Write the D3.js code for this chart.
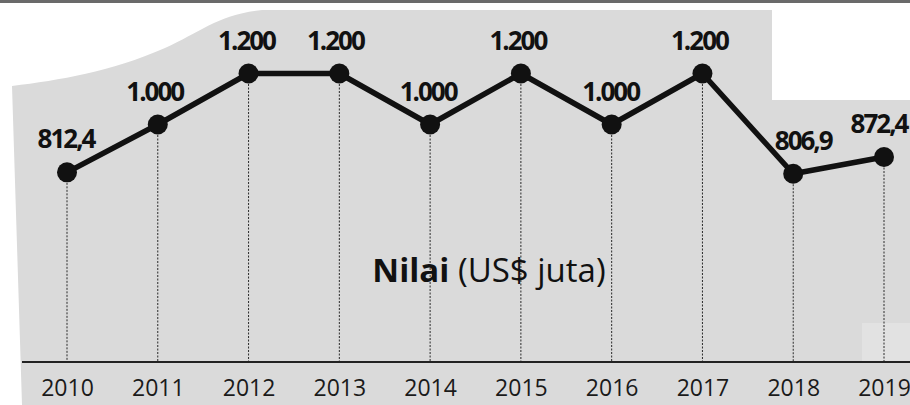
<!DOCTYPE html>
<html>
<head>
<meta charset="utf-8">
<script src="https://cdn.jsdelivr.net/npm/d3@7"></script>
<style>
  body { margin: 0; background: #fff; }
  svg { display: block; }
</style>
</head>
<body>
<div class="chart"></div>
<script>
// data
var years = ['2010', '2011', '2012', '2013', '2014', '2015', '2016', '2017', '2018', '2019'];
var values = [812.4, 1000, 1200, 1200, 1000, 1200, 1000, 1200, 806.9, 872.4];
var valueLabels = ['812,4', '1.000', '1.200', '1.200', '1.000', '1.200', '1.000', '1.200', '806,9', '872,4'];

var svgWidth = 910;
var svgHeight = 405;

var svg = d3.select('.chart')
  .append('svg')
  .attr('width', svgWidth)
  .attr('height', svgHeight);

// scanned-paper background
svg.append('path')
  .attr('d', 'M12,86 C60,80 110,72 165,48 C200,32 220,14 262,10 L772,10 L772,100 L910,100 L910,405 L22,405 Z')
  .attr('fill', '#dadada');
svg.append('rect')
  .attr('x', 862).attr('y', 323)
  .attr('width', 48).attr('height', 39)
  .attr('fill', '#e2e2e2');
svg.append('rect')
  .attr('x', 0).attr('y', 0)
  .attr('width', svgWidth).attr('height', 3)
  .attr('fill', '#6a6a6a');

// scales
var x = d3.scalePoint().domain(years).range([67, 884]);
var y = d3.scaleLinear().domain([700, 1300]).range([201, 48]);
var baseY = 362;

var chart = svg.append('g');

// dotted drop lines
chart.selectAll('.drop')
  .data(years)
  .enter()
  .append('line')
  .attr('class', 'drop')
  .attr('x1', function(d) { return x(d); })
  .attr('x2', function(d) { return x(d); })
  .attr('y1', function(d, i) { return y(values[i]); })
  .attr('y2', baseY)
  .attr('stroke', '#2a2a2a')
  .attr('stroke-width', 1)
  .attr('stroke-dasharray', '2,1.5');

// bottom axis
var bottomAxis = d3.axisBottom(x).tickSize(0).tickPadding(18);
var axisG = chart.append('g')
  .attr('transform', 'translate(0,' + baseY + ')')
  .call(bottomAxis);
axisG.select('.domain').remove();
axisG.append('line')
  .attr('x1', 22).attr('x2', 910)
  .attr('y1', 0).attr('y2', 0)
  .attr('stroke', '#222')
  .attr('stroke-width', 2);
axisG.selectAll('text')
  .attr('fill', '#1a1a1a')
  .style('font-family', '"Open Sans", sans-serif')
  .style('font-size', '23px');

// line
var line = d3.line()
  .x(function(d, i) { return x(years[i]); })
  .y(function(d) { return y(d); });

chart.append('path')
  .datum(values)
  .attr('d', line)
  .attr('fill', 'none')
  .attr('stroke', '#111')
  .attr('stroke-width', 5.5)
  .attr('stroke-linejoin', 'round');

chart.selectAll('circle')
  .data(values)
  .enter()
  .append('circle')
  .attr('cx', function(d, i) { return x(years[i]); })
  .attr('cy', function(d) { return y(d); })
  .attr('r', 10)
  .attr('fill', '#111');

// value labels
var labelShift = [-1, -3, -2, -4, -2, -3, -1, -3, 10, -5];
chart.selectAll('.val')
  .data(values)
  .enter()
  .append('text')
  .attr('class', 'val')
  .attr('x', function(d, i) { return x(years[i]) + labelShift[i]; })
  .attr('y', function(d) { return y(d) - 24; })
  .attr('text-anchor', 'middle')
  .attr('fill', '#111')
  .style('font-family', '"Open Sans", sans-serif')
  .style('font-weight', 'bold')
  .style('font-size', '26px')
  .style('letter-spacing', '-2px')
  .text(function(d, i) { return valueLabels[i]; });

// title
var title = chart.append('text')
  .attr('x', 489)
  .attr('y', 282)
  .attr('text-anchor', 'middle')
  .attr('fill', '#111')
  .style('font-family', '"Open Sans", sans-serif')
  .style('font-size', '33px');
title.append('tspan').style('font-weight', 'bold').text('Nilai');
title.append('tspan').text(' (US$ juta)');
</script>
</body>
</html>
